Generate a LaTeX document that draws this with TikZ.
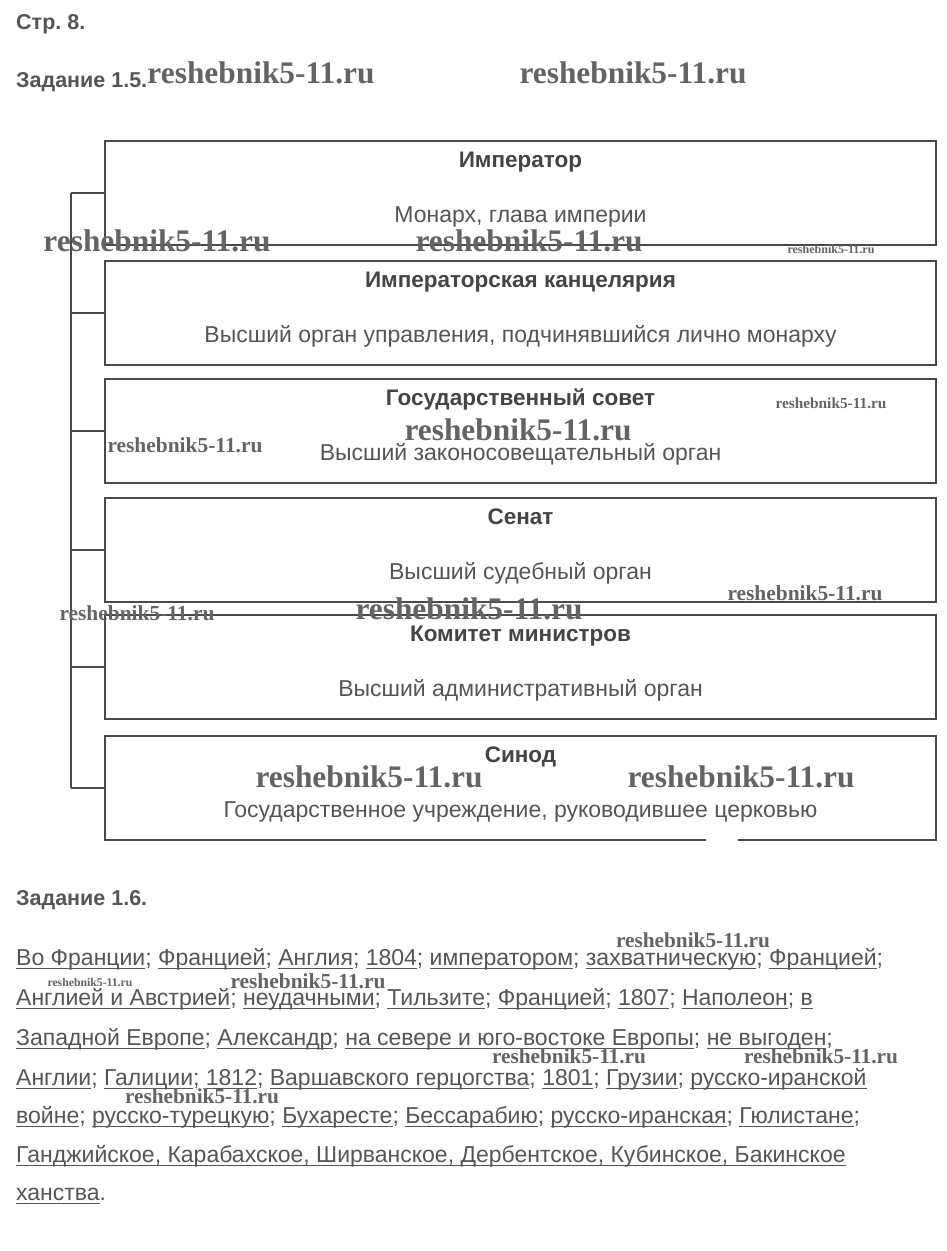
\documentclass[tikz,border=0pt]{standalone}
\usepackage{fontspec}
\setmainfont{Liberation Sans}
\newfontfamily\wmfont{Liberation Serif}
\usepackage{graphicx}
\usetikzlibrary{positioning}
\definecolor{txtgray}{HTML}{555555}
\definecolor{headgray}{HTML}{444444}
\definecolor{linegray}{HTML}{4A4A4A}
\definecolor{wmgray}{HTML}{636363}
% underlined answer word
\newcommand{\ans}[1]{\setbox0\hbox{#1}\rlap{\rule[-3.5pt]{\wd0}{0.9pt}}\box0}
\frenchspacing

\begin{document}
\begin{tikzpicture}[x=1pt, y=-1pt,
    box/.style={draw=linegray, line width=1.8pt, minimum width=831pt, minimum height=104pt, inner sep=0pt},
    boxtitle/.style={anchor=base, text=headgray, font=\bfseries\fontsize{22.5}{27}\selectfont, inner sep=0pt},
    boxtext/.style={anchor=base, text=txtgray, font=\fontsize{23}{28}\selectfont, inner sep=0pt},
    tick/.style={draw=linegray, line width=1.1pt},
    heading/.style={anchor=base west, text=txtgray, font=\bfseries\fontsize{21.5}{26}\selectfont, inner sep=0pt},
    answer/.style={anchor=base west, text=txtgray, font=\fontsize{23}{28}\selectfont, inner sep=0pt},
    wmark/.style={text=wmgray, font=\wmfont\bfseries, inner sep=0pt}]
    \useasboundingbox (0,0) rectangle (947,1251);

    % headings
    \node[heading] (page) at (16,29) {Стр. 8.};
    \node[heading] (task15) at (16,87) {Задание 1.5.};
    \node[heading] (task16) at (16,905) {Задание 1.6.};

    % scheme of the supreme bodies
    \foreach \top/\head/\body [count=\i] in {
        141/Император/{Монарх, глава империи},
        261/Императорская канцелярия/{Высший орган управления, подчинявшийся лично монарху},
        379/Государственный совет/Высший законосовещательный орган,
        498/Сенат/Высший судебный орган,
        615/Комитет министров/Высший административный орган,
        736/Синод/{Государственное учреждение, руководившее церковью}} {
        \node[box] (box\i) at (520.5,\top+52) {};
        \node[boxtitle] (title\i) at ([yshift=-27pt]box\i.north) {\head};
        \node[boxtext] (desc\i) at ([yshift=-82pt]box\i.north) {\body};
    }
    \fill[white] (706,838.5) rectangle (738,844);

    % bracket
    \coordinate (spine) at (71,0);
    \draw[tick] (box1.west -| spine) -- (box6.west -| spine);
    \foreach \i in {1,...,6} {\draw[tick] (box\i.west -| spine) -- (box\i.west);}

    % answers
    \node[answer] (line1) at (16,965) {\ans{Во Франции}; \ans{Францией}; \ans{Англия}; \ans{1804}; \ans{императором}; \ans{захватническую}; \ans{Францией};};
    \node[answer] (line2) at (16,1005) {\ans{Англией и Австрией}; \ans{неудачными}; \ans{Тильзите}; \ans{Францией}; \ans{1807}; \ans{Наполеон}; \ans{в}};
    \node[answer] (line3) at (16,1045) {\ans{Западной Европе}; \ans{Александр}; \ans{на севере и юго-востоке Европы}; \ans{не выгоден};};
    \node[answer] (line4) at (16,1085) {\ans{Англии}; \ans{Галиции}; \ans{1812}; \ans{Варшавского герцогства}; \ans{1801}; \ans{Грузии}; \ans{русско-иранской}};
    \node[answer] (line5) at (16,1123) {\ans{войне}; \ans{русско-турецкую}; \ans{Бухаресте}; \ans{Бессарабию}; \ans{русско-иранская}; \ans{Гюлистане};};
    \node[answer] (line6) at (16,1162) {\ans{Ганджийское, Карабахское, Ширванское, Дербентское, Кубинское, Бакинское}};
    \node[answer] (line7) at (16,1200) {\ans{ханства}.};

    % watermarks
    \foreach \x/\y/\w [count=\i] in {261/73/227, 633/73/227, 157/241/227, 529/241/227, 831/249/87,
        831/403/111, 518/430/227, 185/445/155, 805/593/155, 137/613/155, 469/609/227,
        369/777/227, 741/777/227, 693/940/154, 90/982/85, 308/981/155, 569/1056/154,
        821/1056/154, 202/1096/154}
        {\node[wmark] (wm\i) at (\x,\y) {\resizebox{\w pt}{!}{reshebnik5-11.ru}};}
\end{tikzpicture}
\end{document}
